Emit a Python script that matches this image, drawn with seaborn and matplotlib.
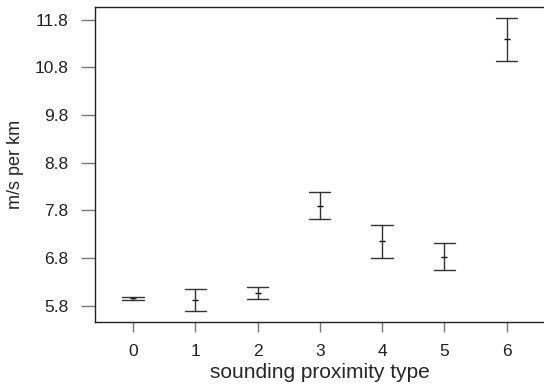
import matplotlib
matplotlib.use('Agg')
import matplotlib.pyplot as plt
import seaborn as sns
import numpy as np
import pandas as pd

# summary values (m/s per km)
proximity_types = ['0', '1', '2', '3', '4', '5', '6']
means = [5.955, 5.92, 6.07, 7.89, 7.15, 6.83, 11.39]
lower = [5.92, 5.70, 5.94, 7.62, 6.80, 6.56, 10.93]
upper = [5.98, 6.15, 6.19, 8.18, 7.50, 7.12, 11.84]
y_ticks = [5.8, 6.8, 7.8, 8.8, 9.8, 10.8, 11.8]

# long table: the median of (lower, mean, upper) is the mean, min/max the bar ends
rows = []
for t, lo, m, hi in zip(proximity_types, lower, means, upper):
    for v in (lo, m, hi):
        rows.append({'type': t, 'value': v})
df = pd.DataFrame(rows)

sns.set_style('white')
plt.rcParams['font.family'] = ['Liberation Sans', 'DejaVu Sans']

fig = plt.figure(figsize=(5.44, 3.87), dpi=100)
ax = fig.add_axes([0.1746, 0.168, 0.8254, 0.814])

sns.pointplot(data=df, x='type', y='value', order=proximity_types,
              estimator=np.median, errorbar=lambda x: (x.min(), x.max()),
              linestyle='none', marker='_', markersize=4, markeredgewidth=1.0,
              color='black', capsize=0.34,
              err_kws={'linewidth': 1.0, 'color': '#333333'}, ax=ax)

ax.set_xlim(-0.61, 6.6)
ax.set_ylim(5.46, 12.07)
ax.set_yticks(y_ticks)
ax.set_yticklabels([f'{v:.1f}' for v in y_ticks])

ax.set_xlabel('sounding proximity type', fontsize=15, labelpad=3)
ax.set_ylabel('m/s per km', fontsize=13, labelpad=8)
ax.tick_params(axis='both', labelsize=12.5, colors='#222222')
ax.tick_params(axis='y', length=10, width=1, color='#777777', pad=9, left=True)
ax.tick_params(axis='x', length=7.5, width=1, color='#777777', pad=8, bottom=True)

for side in ['left', 'bottom', 'top']:
    ax.spines[side].set_color('#222222')
    ax.spines[side].set_linewidth(1)
ax.spines['right'].set_visible(False)

plt.savefig('out.png', dpi=100)
